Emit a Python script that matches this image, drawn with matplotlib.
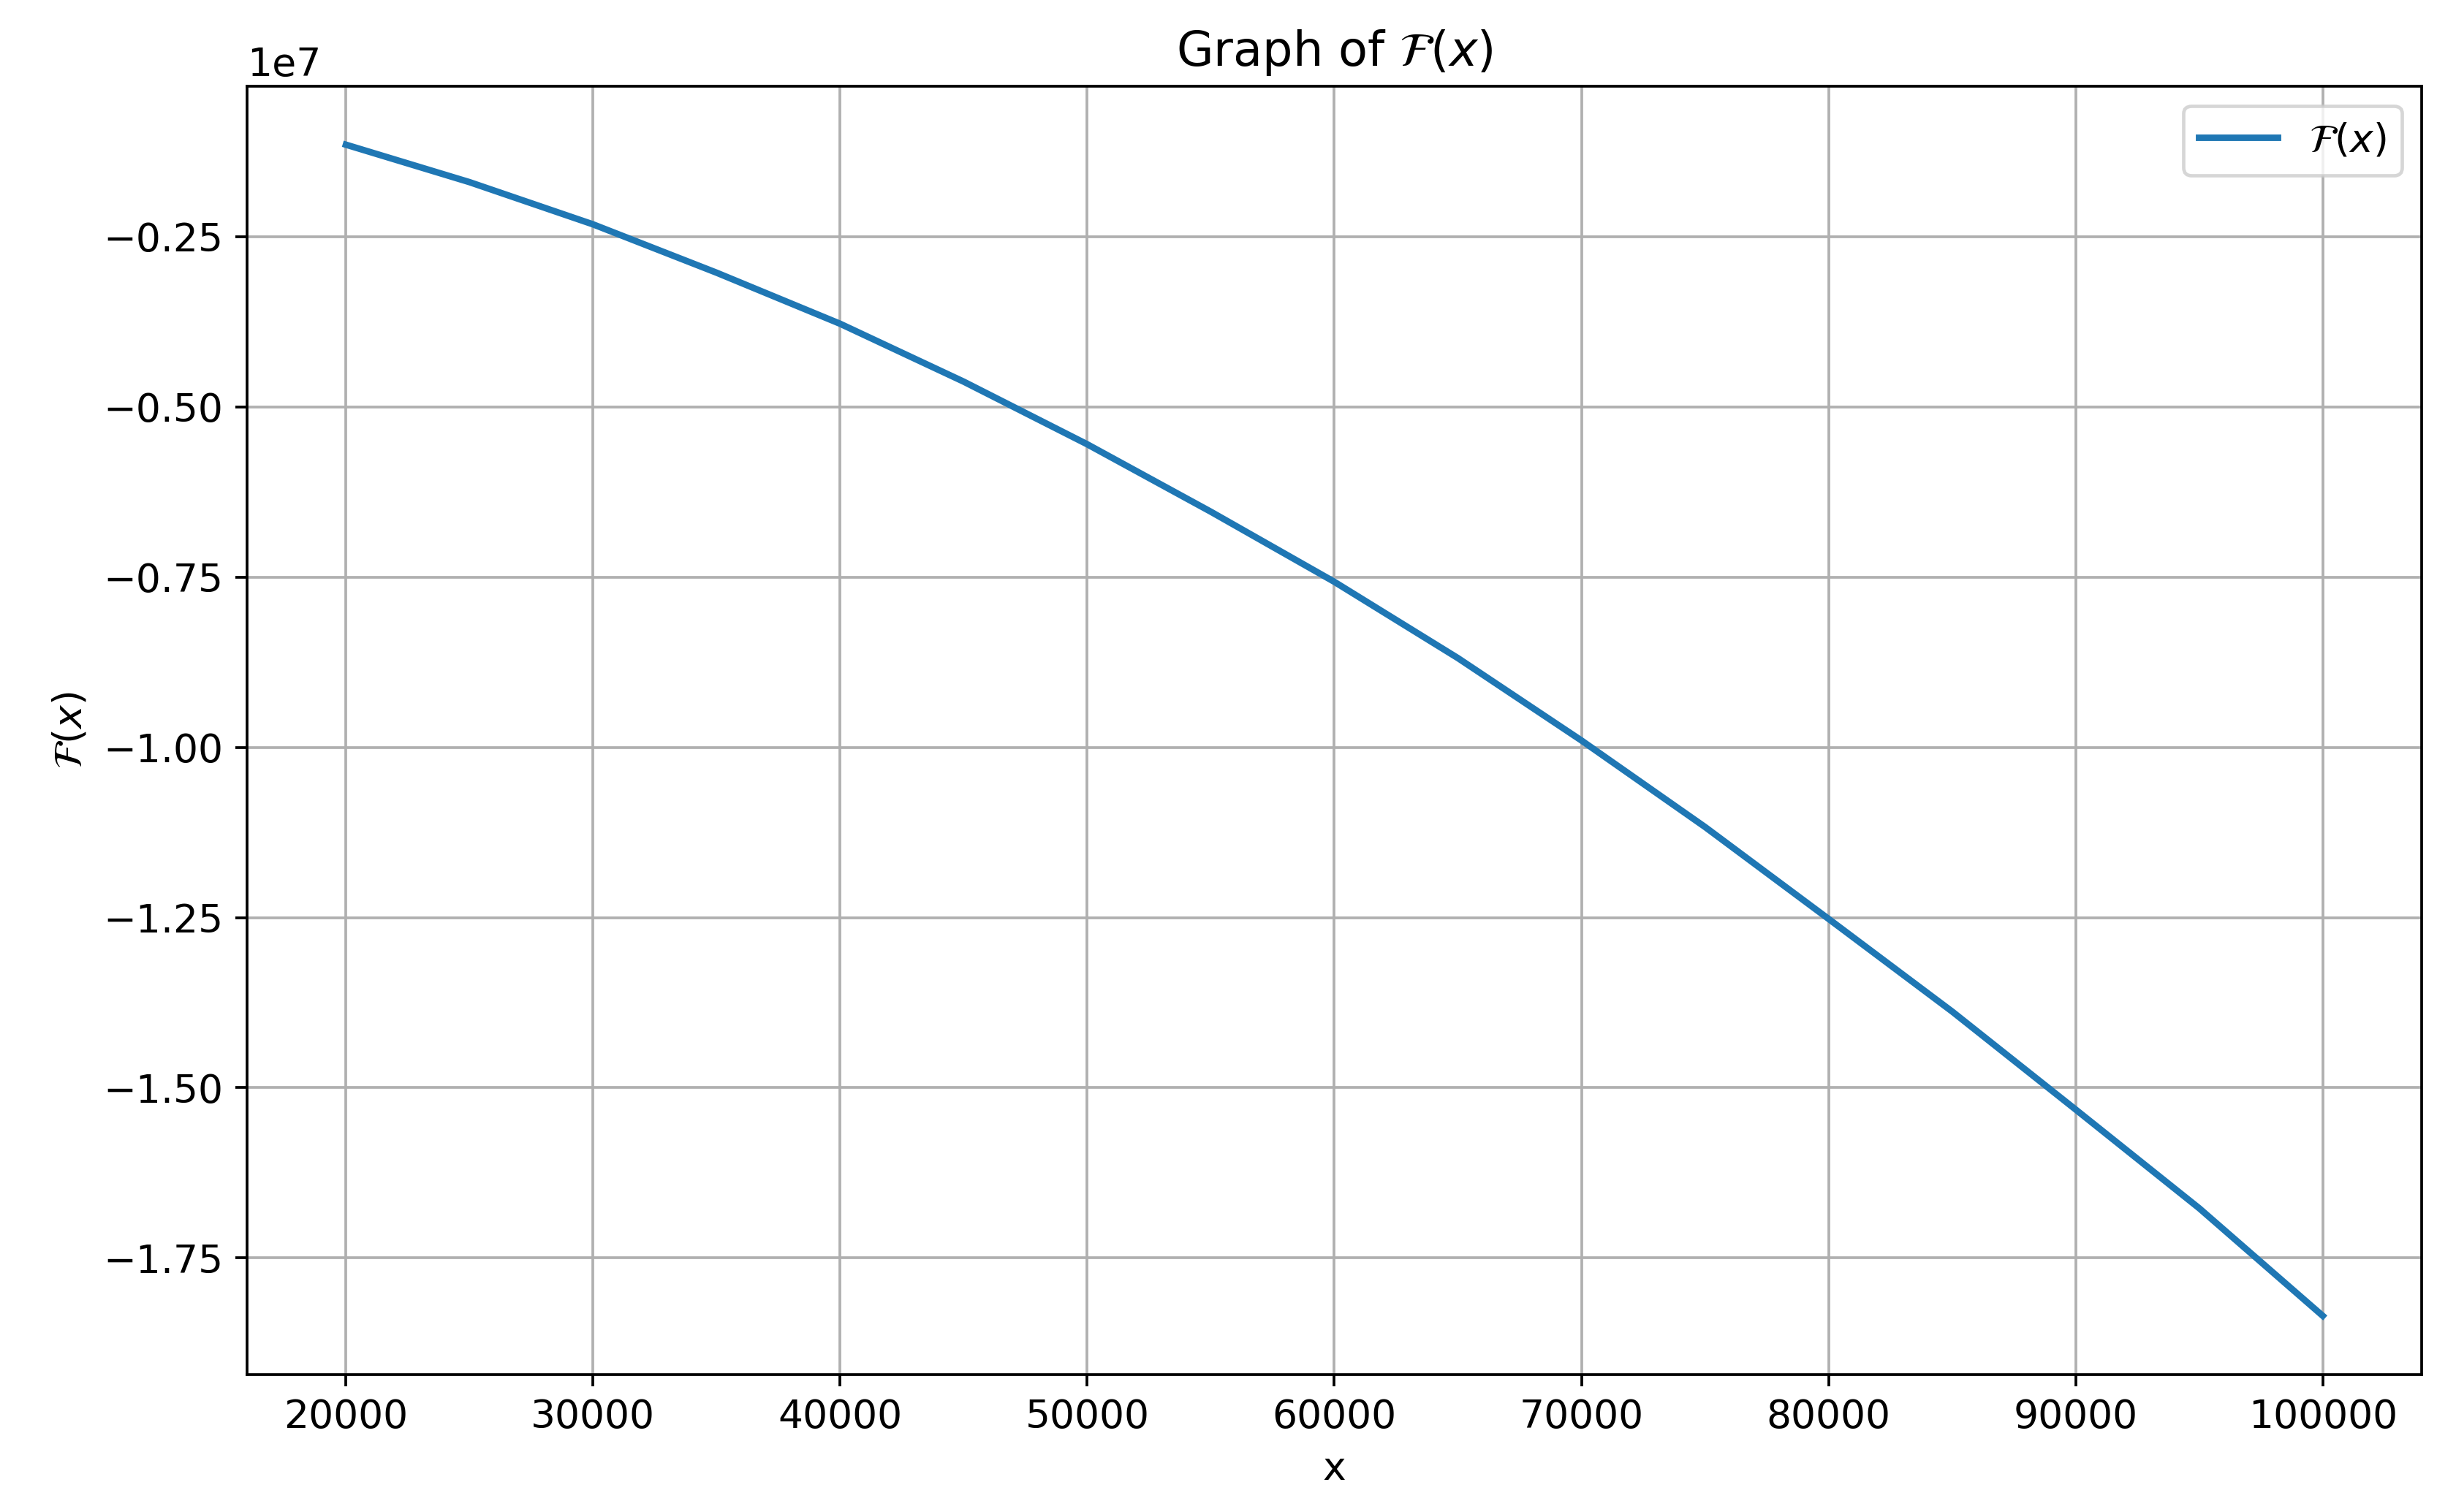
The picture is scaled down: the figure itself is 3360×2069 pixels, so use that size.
import matplotlib
matplotlib.use("Agg")
import matplotlib.pyplot as plt

x_vals = [20000, 25000, 30000, 35000, 40000, 45000, 50000, 55000, 60000,
          65000, 70000, 75000, 80000, 85000, 90000, 95000, 100000]
f_vals = [-1.15e6, -1.70e6, -2.32e6, -3.03e6, -3.78e6, -4.63e6, -5.55e6, -6.54e6, -7.57e6,
          -8.69e6, -9.90e6, -11.17e6, -12.52e6, -13.88e6, -15.32e6, -16.77e6, -18.35e6]

plt.rcParams['font.size'] = 11.5
fig = plt.figure(figsize=(10, 6.158), dpi=336)
ax = fig.add_axes([0.1006, 0.091, 0.8854, 0.852])
ax.plot(x_vals, f_vals, color='#1f77b4', lw=1.9, label=r'$\mathcal{F}(x)$')
ax.set_title(r'Graph of $\mathcal{F}(x)$', fontsize=14)
ax.set_xlabel('x')
ax.set_ylabel(r'$\mathcal{F}(x)$')
ax.set_yticks([-1.75e7, -1.5e7, -1.25e7, -1.0e7, -0.75e7, -0.5e7, -0.25e7])
ax.grid(True)
ax.legend(loc='upper right')
fig.savefig('out.png')
